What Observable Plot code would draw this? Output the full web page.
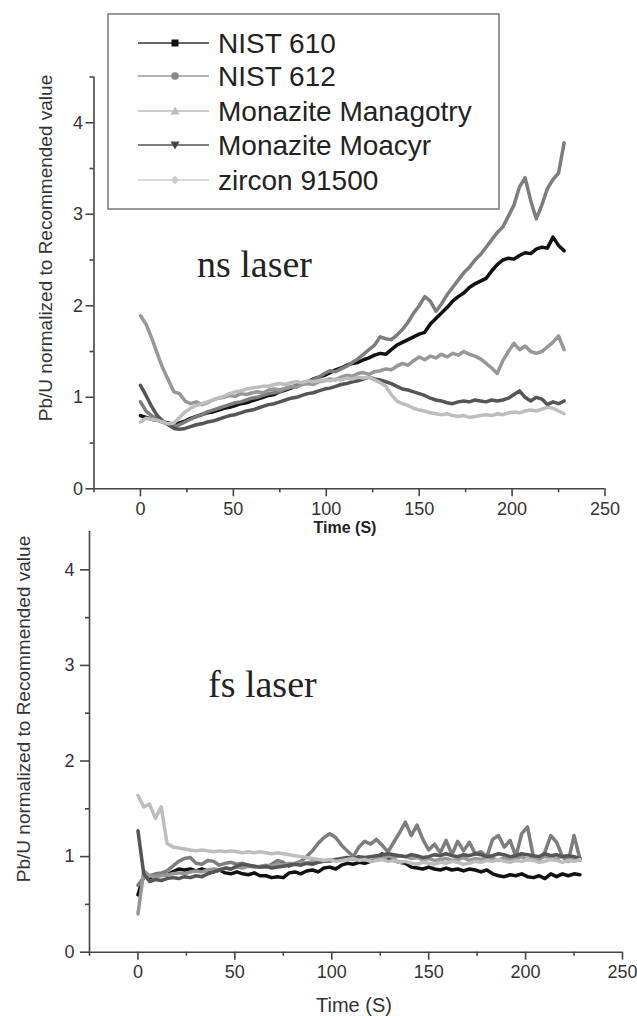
<!DOCTYPE html>
<html><head><meta charset="utf-8">
<script src="https://cdn.jsdelivr.net/npm/d3@7"></script>
<script src="https://cdn.jsdelivr.net/npm/@observablehq/plot@0.6"></script>
<style>
body{margin:0;background:#fff;}
#wrap{position:relative;width:637px;height:1016px;overflow:hidden;font-family:"Liberation Sans",Arial,sans-serif;}
#wrap svg{display:block;}
#overlay{position:absolute;left:0;top:0;}
</style></head><body><div id="wrap"></div>
<script>
// ---- data ----
const seriesNames = ["NIST 610", "NIST 612", "Monazite Managotry", "Monazite Moacyr", "zircon 91500"];
const lineColors = ["#111111", "#7d7d7d", "#979797", "#555555", "#bdbdbd"];
const legendLineColors = ["#333333", "#999999", "#bbbbbb", "#555555", "#cccccc"];
const legendMarkers = ["square", "circle", "triangle", "triangle-down", "diamond"];
const markerColors = ["#111111", "#888888", "#bbbbbb", "#444444", "#cccccc"];
const time = d3.range(0, 229, 3); // seconds, 0..228
const xMajor = [0, 50, 100, 150, 200, 250];
const xMinor = [-25, 25, 75, 125, 175, 225];
const yMajor = [0, 1, 2, 3, 4];
const yMinor = [0.5, 1.5, 2.5, 3.5, 4.5];

// ns laser
const ns_nist610 = [0.80,0.78,0.76,0.75,0.73,0.72,0.70,0.72,0.74,0.77,
 0.79,0.81,0.83,0.84,0.86,0.88,0.89,0.91,0.93,0.94,
 0.96,0.98,1.00,1.02,1.03,1.06,1.08,1.10,1.13,1.16,
 1.17,1.20,1.22,1.24,1.27,1.30,1.32,1.35,1.37,1.38,
 1.41,1.43,1.46,1.48,1.47,1.52,1.57,1.60,1.63,1.66,
 1.69,1.71,1.80,1.86,1.92,1.98,2.05,2.10,2.14,2.20,
 2.24,2.27,2.30,2.38,2.45,2.50,2.52,2.51,2.55,2.58,
 2.57,2.62,2.64,2.63,2.75,2.66,2.60];
const ns_nist612 = [0.95,0.85,0.80,0.76,0.73,0.70,0.68,0.70,0.73,0.76,
 0.79,0.81,0.84,0.86,0.88,0.90,0.92,0.94,0.95,0.97,
 0.99,1.00,1.02,1.04,1.05,1.06,1.09,1.11,1.13,1.15,
 1.16,1.19,1.22,1.26,1.29,1.28,1.31,1.34,1.38,1.42,
 1.47,1.52,1.57,1.66,1.64,1.63,1.68,1.74,1.82,1.92,
 2.00,2.10,2.05,1.94,2.02,2.12,2.20,2.28,2.36,2.42,
 2.50,2.56,2.64,2.72,2.80,2.86,2.98,3.10,3.30,3.40,
 3.15,2.95,3.10,3.28,3.38,3.45,3.78];
const ns_managotry = [1.89,1.80,1.65,1.48,1.32,1.19,1.06,1.04,0.96,0.93,
 0.95,0.92,0.94,0.97,0.99,1.00,1.02,1.01,1.04,1.03,
 1.05,1.06,1.05,1.08,1.09,1.08,1.10,1.12,1.11,1.14,
 1.15,1.14,1.17,1.18,1.20,1.19,1.22,1.24,1.23,1.26,
 1.27,1.25,1.28,1.29,1.31,1.30,1.34,1.37,1.35,1.40,
 1.44,1.41,1.45,1.43,1.47,1.44,1.48,1.46,1.50,1.47,
 1.45,1.42,1.37,1.32,1.26,1.40,1.50,1.59,1.52,1.56,
 1.50,1.48,1.50,1.55,1.60,1.67,1.52];
const ns_moacyr = [1.13,1.02,0.90,0.80,0.74,0.70,0.66,0.65,0.66,0.68,
 0.70,0.71,0.73,0.74,0.76,0.78,0.80,0.81,0.83,0.85,
 0.86,0.88,0.90,0.92,0.93,0.95,0.97,0.99,1.00,1.02,
 1.04,1.05,1.07,1.09,1.10,1.12,1.14,1.15,1.17,1.18,
 1.20,1.22,1.20,1.19,1.17,1.15,1.12,1.09,1.08,1.06,
 1.04,1.02,0.99,0.97,0.96,0.94,0.93,0.95,0.96,0.95,
 0.97,0.96,0.95,0.97,0.96,0.97,0.99,1.03,1.07,1.00,
 0.96,1.00,0.98,0.92,0.95,0.93,0.96];
const ns_zircon = [0.73,0.77,0.76,0.75,0.73,0.71,0.72,0.78,0.84,0.88,
 0.91,0.93,0.95,0.97,0.99,1.01,1.04,1.06,1.07,1.09,
 1.10,1.11,1.12,1.12,1.14,1.15,1.14,1.16,1.17,1.16,
 1.18,1.17,1.18,1.19,1.18,1.20,1.19,1.21,1.20,1.22,
 1.21,1.22,1.19,1.16,1.12,1.03,0.96,0.93,0.91,0.88,
 0.86,0.85,0.83,0.82,0.81,0.82,0.80,0.79,0.80,0.78,
 0.79,0.80,0.81,0.80,0.82,0.81,0.83,0.84,0.83,0.85,
 0.86,0.85,0.87,0.89,0.88,0.85,0.82];

// fs laser
const fs_nist610 = [0.60,0.80,0.78,0.80,0.82,0.81,0.84,0.87,0.86,0.87,
 0.85,0.87,0.85,0.84,0.86,0.83,0.82,0.84,0.82,0.81,
 0.83,0.80,0.80,0.78,0.79,0.78,0.83,0.84,0.82,0.85,
 0.86,0.84,0.88,0.89,0.87,0.91,0.93,0.92,0.94,0.93,
 0.95,0.97,1.03,0.98,0.96,0.94,0.93,0.89,0.88,0.87,
 0.89,0.87,0.86,0.88,0.86,0.87,0.85,0.87,0.86,0.84,
 0.86,0.82,0.80,0.79,0.81,0.80,0.82,0.79,0.78,0.80,
 0.77,0.82,0.79,0.82,0.80,0.82,0.81];
const fs_nist612 = [0.70,0.78,0.80,0.82,0.83,0.85,0.90,0.95,0.98,0.99,
 0.93,0.92,0.96,0.95,0.91,0.93,0.94,0.92,0.93,0.91,
 0.90,0.89,0.89,0.92,0.96,0.94,0.90,0.93,0.95,1.00,
 1.06,1.14,1.20,1.24,1.20,1.12,1.06,1.00,1.10,1.16,
 1.13,1.18,1.12,1.05,1.15,1.25,1.36,1.22,1.33,1.18,
 1.07,1.13,1.04,1.17,1.02,1.16,1.06,1.15,1.03,1.05,
 1.00,1.18,1.22,1.10,1.17,1.00,1.24,1.31,1.00,0.96,
 1.05,1.22,1.15,1.00,0.95,1.22,0.98];
const fs_managotry = [0.40,0.85,0.80,0.79,0.80,0.81,0.82,0.83,0.82,0.84,
 0.85,0.84,0.86,0.87,0.86,0.88,0.87,0.89,0.88,0.90,
 0.89,0.90,0.91,0.90,0.92,0.91,0.93,0.92,0.94,0.93,
 0.95,0.94,0.96,0.95,0.97,0.96,0.98,0.97,0.99,0.98,
 1.00,0.99,0.98,1.00,0.99,1.01,1.00,0.98,0.99,0.97,
 0.98,0.96,0.97,0.98,0.96,0.97,0.99,0.96,0.98,0.97,
 0.99,0.98,0.96,0.99,0.97,0.98,1.00,0.97,0.99,0.98,
 1.00,0.99,0.97,1.01,1.00,0.98,0.96];
const fs_moacyr = [1.27,0.82,0.74,0.76,0.75,0.77,0.78,0.77,0.79,0.78,
 0.80,0.79,0.82,0.84,0.86,0.88,0.87,0.90,0.92,0.91,
 0.90,0.89,0.90,0.88,0.89,0.90,0.91,0.92,0.91,0.93,
 0.92,0.94,0.95,0.96,0.97,0.98,0.99,0.98,1.00,0.99,
 1.00,1.01,1.02,1.03,1.02,1.01,1.00,1.02,1.01,0.99,
 1.00,1.02,1.01,1.03,1.01,1.00,1.02,1.01,1.03,1.02,
 1.00,1.01,1.03,1.02,1.00,1.01,1.03,1.02,1.01,1.00,
 1.03,1.01,1.02,1.00,1.01,1.00,0.98];
const fs_zircon = [1.64,1.52,1.55,1.40,1.52,1.14,1.10,1.09,1.08,1.07,
 1.06,1.07,1.06,1.05,1.06,1.05,1.06,1.05,1.04,1.05,
 1.04,1.05,1.04,1.03,1.04,1.03,1.02,1.01,1.00,0.99,
 0.98,0.97,0.96,0.97,0.95,0.96,0.97,0.98,0.96,0.97,
 0.95,0.96,0.97,0.95,0.96,0.94,0.95,0.93,0.92,0.94,
 0.93,0.92,0.94,0.93,0.95,0.94,0.92,0.93,0.95,0.94,
 0.96,0.95,0.97,0.95,0.94,0.96,0.95,0.97,0.96,0.94,
 0.95,0.97,0.96,0.94,0.96,0.95,0.97];

// ---- build ----
function rows(arrs) {
  const out = [];
  arrs.forEach((vals, i) => vals.forEach((v, j) => out.push({s: seriesNames[i], t: time[j], v})));
  return out;
}
const nsData = rows([ns_nist610, ns_nist612, ns_managotry, ns_moacyr, ns_zircon]);
const fsData = rows([fs_nist610, fs_nist612, fs_managotry, fs_moacyr, fs_zircon]);

const axisColor = "#444";
function chart(data, o) {
  return Plot.plot({
    width: 637, height: o.height,
    marginLeft: o.ml, marginRight: o.mr, marginTop: o.mt, marginBottom: o.mb,
    style: {fontFamily: "'Liberation Sans', Arial, sans-serif", fontSize: "18px", color: "#333", background: "white", overflow: "visible"},
    x: {domain: [-25, 250]},
    y: {domain: [0, o.ymax]},
    color: {domain: seriesNames, range: lineColors},
    marks: [
      Plot.line(data, {x: "t", y: "v", z: "s", stroke: "s", strokeWidth: 3.5, strokeLinejoin: "round"}),
      Plot.ruleX([-25], {stroke: axisColor, strokeWidth: 1.6}),
      Plot.ruleY([0], {stroke: axisColor, strokeWidth: 1.6}),
      Plot.axisY({ticks: yMajor, tickSize: o.yTick, tickPadding: o.yPad, label: null, stroke: axisColor, strokeWidth: 1.6, tickFormat: d3.format("d")}),
      Plot.axisY({ticks: yMinor.filter(d => d <= o.ymax), tickSize: 4, label: null, stroke: axisColor, strokeWidth: 1.6, tickFormat: () => ""}),
      Plot.axisX({ticks: xMajor, tickSize: 8, tickPadding: 5, label: null, stroke: axisColor, strokeWidth: 1.6, tickFormat: d3.format("d")}),
      Plot.axisX({ticks: xMinor, tickSize: 4, label: null, stroke: axisColor, strokeWidth: 1.6, tickFormat: () => ""})
    ]
  });
}

const wrap = document.getElementById("wrap");
wrap.appendChild(chart(nsData, {height: 525, ml: 93.5, mr: 32.5, mt: 76.5, mb: 36.7, ymax: 4.5, yTick: 8, yPad: 3}));
wrap.appendChild(chart(fsData, {height: 491, ml: 89, mr: 15, mt: 6.1, mb: 64.3, ymax: 4.4, yTick: 9, yPad: 6}));

// ---- overlay texts & legend ----
const ov = d3.select(wrap).append("svg").attr("id", "overlay").attr("width", 637).attr("height", 1016);
const sans = "'Liberation Sans', Arial, sans-serif";
const serif = "'Liberation Serif', 'Times New Roman', serif";

ov.append("text").attr("x", 197).attr("y", 277).attr("font-family", serif).attr("font-size", 38).attr("fill", "#222").text("ns laser");
ov.append("text").attr("x", 208).attr("y", 697).attr("font-family", serif).attr("font-size", 38).attr("fill", "#222").text("fs laser");

ov.append("text").attr("transform", "translate(45,248) rotate(-90)").attr("text-anchor", "middle").attr("dominant-baseline", "central")
  .attr("font-family", sans).attr("font-size", 19).attr("fill", "#333").text("Pb/U normalized to Recommended value");
ov.append("text").attr("transform", "translate(23,709) rotate(-90)").attr("text-anchor", "middle").attr("dominant-baseline", "central")
  .attr("font-family", sans).attr("font-size", 19).attr("fill", "#333").text("Pb/U normalized to Recommended value");

ov.append("text").attr("x", 345).attr("y", 533).attr("text-anchor", "middle").attr("font-family", sans).attr("font-weight", "bold")
  .attr("font-size", 16).attr("fill", "#222").text("Time (S)");
ov.append("text").attr("x", 354).attr("y", 1012).attr("text-anchor", "middle").attr("font-family", sans)
  .attr("font-size", 20).attr("fill", "#333").text("Time (S)");

// legend
ov.append("rect").attr("x", 108).attr("y", 14).attr("width", 391).attr("height", 195)
  .attr("fill", "white").attr("stroke", "#777").attr("stroke-width", 1.5);
const rowY = [43, 76, 111, 145, 180];
seriesNames.forEach((name, i) => {
  const y = rowY[i];
  const g = ov.append("g");
  g.append("line").attr("x1", 138).attr("x2", 209).attr("y1", y).attr("y2", y).attr("stroke", legendLineColors[i]).attr("stroke-width", 1.6);
  const c = markerColors[i], m = legendMarkers[i], x = 175;
  if (m === "square") g.append("rect").attr("x", x - 3.5).attr("y", y - 3.5).attr("width", 7).attr("height", 7).attr("fill", c);
  else if (m === "circle") g.append("circle").attr("cx", x).attr("cy", y).attr("r", 3.8).attr("fill", c);
  else if (m === "triangle") g.append("path").attr("d", `M${x},${y-4.5}L${x+4.5},${y+3.5}L${x-4.5},${y+3.5}Z`).attr("fill", c);
  else if (m === "triangle-down") g.append("path").attr("d", `M${x},${y+4.5}L${x+4.5},${y-3.5}L${x-4.5},${y-3.5}Z`).attr("fill", c);
  else g.append("path").attr("d", `M${x},${y-4.5}L${x+4},${y}L${x},${y+4.5}L${x-4},${y}Z`).attr("fill", c);
  g.append("text").attr("x", 218).attr("y", y).attr("dominant-baseline", "central").attr("font-family", sans)
    .attr("font-size", 28).attr("fill", "#222").text(name);
});
</script></body></html>
